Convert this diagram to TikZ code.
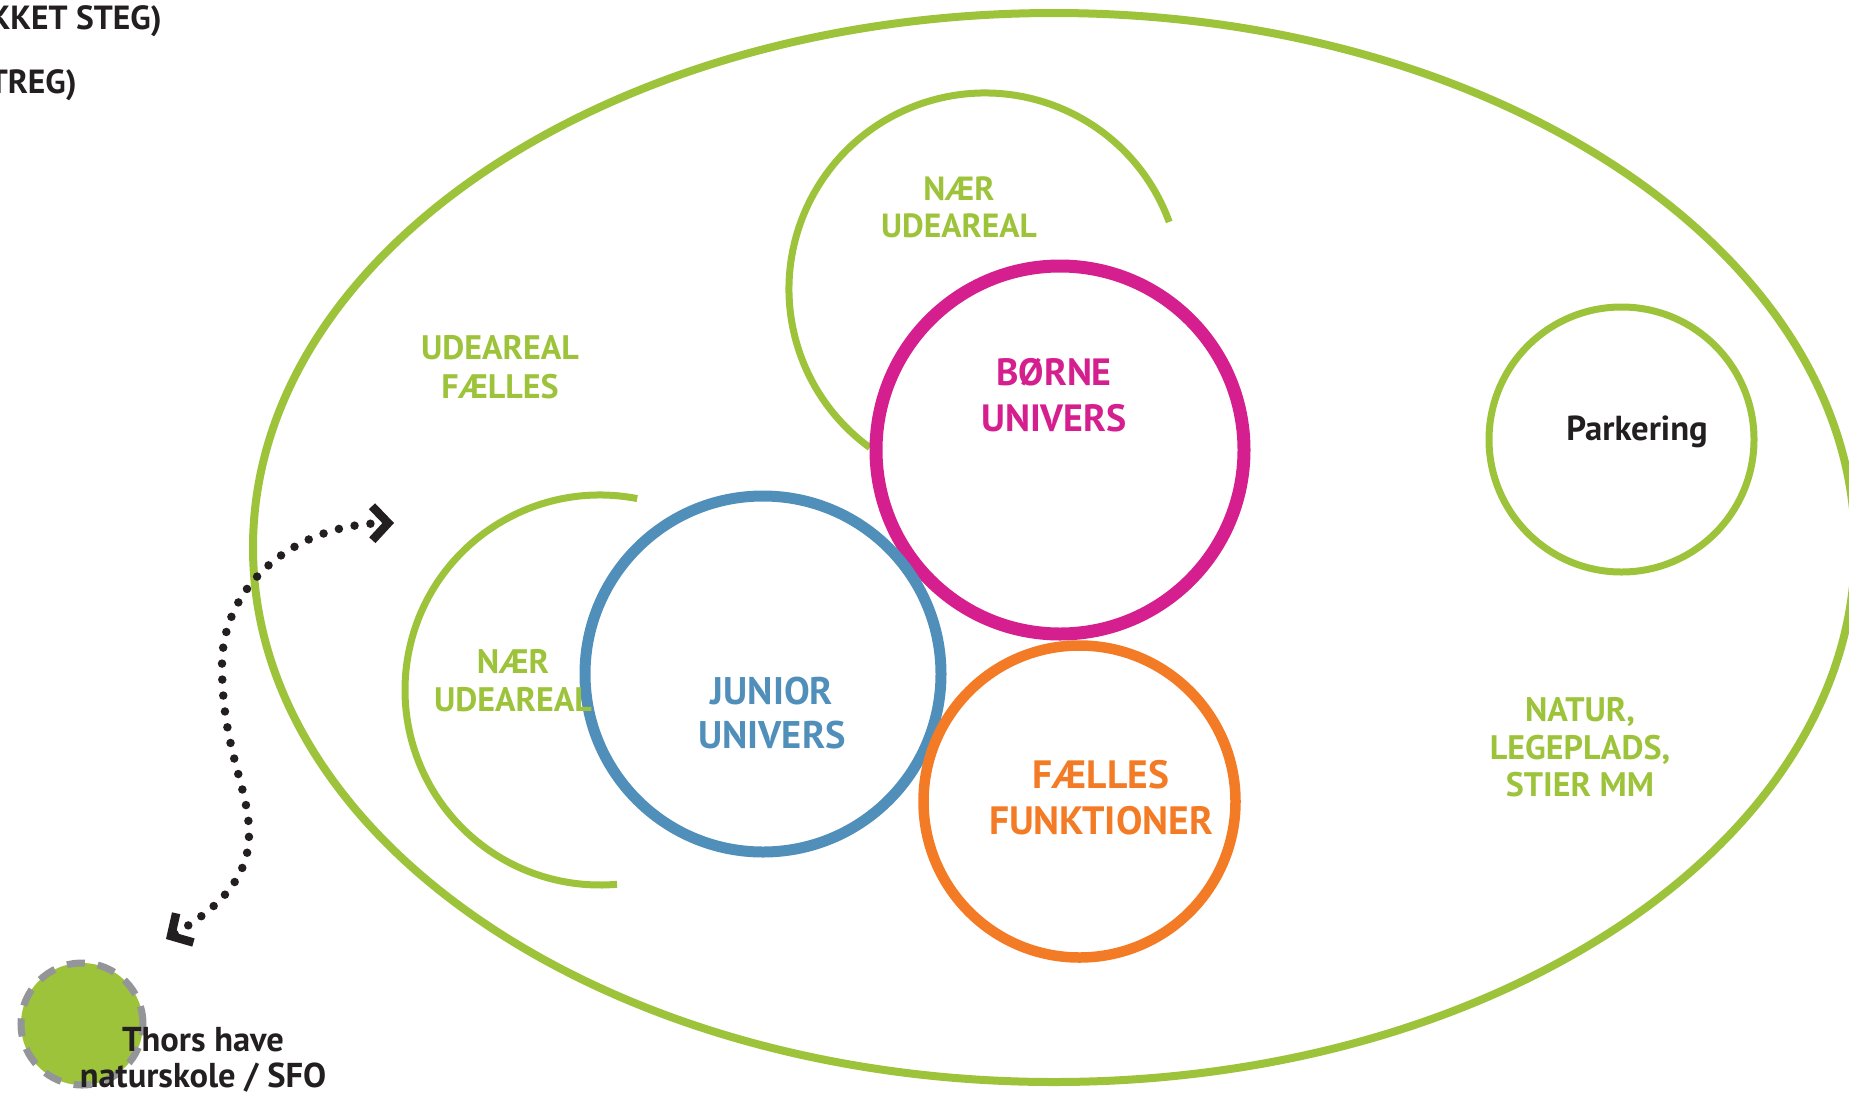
\documentclass[tikz,border=0pt]{standalone}
\usepackage{fontspec}
\setmainfont{PT Sans}
\usetikzlibrary{arrows.meta,shapes.geometric}
\definecolor{lgreen}{RGB}{157,195,59}
\definecolor{lpink}{RGB}{213,31,143}
\definecolor{lblue}{RGB}{81,143,187}
\definecolor{lorange}{RGB}{244,123,37}
\definecolor{ldark}{RGB}{35,31,32}
\definecolor{lgray}{RGB}{147,149,152}
\tikzset{chev/.tip={Straight Barb[length=16pt,width=34pt,line width=8.5pt]}}
\begin{document}
\begin{tikzpicture}[x=1pt,y=-1pt,
  lbl/.style={align=center, inner sep=0pt, font=\bfseries\fontsize{33.5}{37}\selectfont},
  biglbl/.style={align=center, inner sep=0pt, font=\bfseries\fontsize{38}{46}\selectfont},
  ring/.style={circle, draw, inner sep=0pt, outer sep=0pt},
  openarc/.style={draw=lgreen, line width=7pt},
  dots/.style={draw=ldark, line width=8.5pt, line cap=round, dash pattern=on 0pt off 16pt},
]
\useasboundingbox (0,0) rectangle (1849,1093);

% outer ellipse
\node[ellipse, draw=lgreen, line width=8pt, minimum width=1602pt, minimum height=1069pt, inner sep=0pt] (outer) at (1054,547.5) {};

% open arcs (naer udeareal)
\coordinate (arcTop) at (985,289);
\coordinate (arcLeft) at (600,690);
\draw[openarc] (arcTop) ++(-20:196) arc[start angle=-20, end angle=-234, radius=196];
\draw[openarc] (arcLeft) ++(-79:195) arc[start angle=-79, end angle=-275, radius=195];

% rings
\node[ring, draw=lpink, line width=13pt, minimum size=368pt] (borne) at (1060,450) {};
\node[ring, draw=lblue, line width=11pt, minimum size=356pt] (junior) at (763,674) {};
\node[ring, draw=lorange, line width=10.5pt, minimum size=312pt] (faelles) at (1079.5,801.5) {};
\node[ring, draw=lgreen, line width=7pt, minimum size=265pt] (park) at (1621.5,439.5) {};
\node[ring, fill=lgreen, draw=lgray, line width=7pt, dash pattern=on 18pt off 13pt, minimum size=122pt] (thors) at (82,1024) {};

% labels
\node[lbl, text=lgreen] (naerTop) at (959,207) {NÆR\\UDEAREAL};
\node[lbl, text=lgreen, font=\bfseries\fontsize{34}{39}\selectfont] (udeFaelles) at (500,367.5) {UDEAREAL\\FÆLLES};
\node[lbl, text=lgreen, font=\bfseries\fontsize{34}{38}\selectfont] (naerLeft) at (513,681) {NÆR\\UDEAREAL};
\node[biglbl, text=lpink] (borneTxt) at (1054,395.5) {BØRNE\\UNIVERS};
\node[biglbl, text=lblue, font=\bfseries\fontsize{38.5}{44}\selectfont] (juniorTxt) at (772,713) {JUNIOR\\UNIVERS};
\node[biglbl, text=lorange, font=\bfseries\fontsize{39.5}{46}\selectfont] (faellesTxt) at (1101,798) {FÆLLES\\FUNKTIONER};
\node[lbl, text=ldark, anchor=base, font=\bfseries\fontsize{34.7}{37}\selectfont] (parkTxt) at (1637,440) {Parkering};
\node[lbl, text=lgreen, font=\bfseries\fontsize{34}{37.5}\selectfont] (natur) at (1580,747.5) {NATUR,\\LEGEPLADS,\\STIER MM};
\node[lbl, text=ldark, font=\bfseries\fontsize{34.5}{36.5}\selectfont] (thorsTxt) at (203,1060) {Thors have\\naturskole / SFO};
\node[lbl, text=ldark, anchor=base east] (topA) at (162,29) {KKET STEG)};
\node[lbl, text=ldark, anchor=base east] (topB) at (77,93) {TREG)};

% dotted double arrow
\coordinate (dA) at (394,523);
\coordinate (dB) at (166,939);
\draw[dots, chev-chev] (dB) .. controls (215,910) and (249,880) .. (249,835) .. controls (250,790) and (222,750) .. (222,665) .. controls (222,585) and (295,524) .. (dA);
\end{tikzpicture}
\end{document}
